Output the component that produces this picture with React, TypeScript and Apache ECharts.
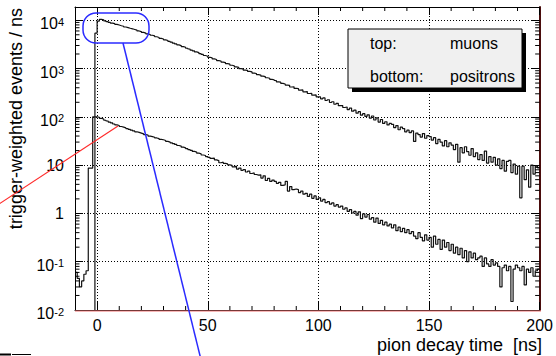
import React, { useEffect, useRef } from 'react';
import * as echarts from 'echarts';

const X_MIN = -10;
const X_MAX = 200;
const Y_MIN = 0.01;
const Y_MAX = 18800;
const BIN_START = -10;
const BIN_WIDTH = 1;

// top histogram: muons, 1 ns bins starting at -10 ns
const muonCounts = [
  0, 0, 0, 0, 0, 0, 0, 0, 0, 5400,
  9600, 10400, 10200, 9700, 9350, 9000, 8700, 8480, 8190, 7960,
  7700, 7500, 7250, 7050, 6820, 6650, 6440, 6230, 6000, 5820,
  5590, 5420, 5220, 5070, 4890, 4730, 4550, 4400, 4220, 4090,
  3930, 3810, 3640, 3510, 3350, 3230, 3090, 2990, 2850, 2760,
  2630, 2540, 2410, 2330, 2210, 2140, 2030, 1960, 1860, 1800,
  1710, 1660, 1580, 1540, 1460, 1430, 1360, 1330, 1260, 1230,
  1170, 1140, 1080, 1060, 1000, 985, 930, 915, 870, 850,
  805, 790, 748, 732, 694, 680, 645, 630, 598, 585,
  565, 530, 522, 492, 478, 455, 450, 415, 418, 388,
  386, 358, 360, 330, 334, 304, 308, 281, 284, 258,
  258, 236, 246, 218, 226, 198, 205, 182, 190, 170,
  171, 156, 160, 141, 152, 131, 137, 119, 128, 108,
  116, 102, 110, 94, 104, 86, 95, 78, 88, 73,
  79, 68, 73, 70, 60, 66, 54, 61, 57, 49,
  53, 47, 51, 31, 46, 43, 38, 45, 36, 41,
  39, 33, 37, 28, 34, 30, 25, 32, 24, 29,
  26, 21, 27, 11.5, 23, 18, 24, 19, 16, 22,
  15, 18, 13, 16.5, 12.5, 19.5, 11, 15, 11.5, 14.5,
  10, 13.5, 8.5, 12.5, 7.5, 12, 12.5, 7, 10.5, 6.5,
  9.5, 2.1, 9.5, 5, 8, 3.5, 10, 6.5, 9.5, 8.8,
];

// bottom histogram: positrons, same bins
const positronCounts = [
  0.06, 0.045, 0.03, 0.04, 0.055, 0.065, 8.7, 8.7, 100, 100,
  98, 93, 90, 85, 82, 78, 75, 71, 68, 66,
  63, 61, 59, 57, 55, 53, 51, 49, 47.5, 46,
  44.5, 43, 42, 40, 39, 37.8, 36.5, 35.5, 34, 33.5,
  32.4, 31, 30, 29, 28, 26.8, 25.5, 24.8, 23.5, 22.8,
  21.9, 21, 20.2, 19.2, 18.6, 17.7, 17.2, 16.2, 15.8, 15,
  14.5, 13.8, 13.9, 12.8, 12.4, 11.2, 11.5, 10.9, 10.6, 10.1,
  9.9, 9.2, 9.5, 8.3, 8.7, 7.8, 8.1, 7.2, 7.5, 6.7,
  6.9, 6.4, 6.2, 6.3, 5.4, 6.0, 4.8, 5.3, 4.6, 4.9,
  4.6, 4.2, 4.4, 3.8, 3.9, 4.6, 2.9, 3.6, 3.1, 3.2,
  3.1, 2.7, 2.9, 2.5, 2.6, 2.25, 2.5, 2.05, 2.3, 1.95,
  2.1, 1.8, 1.95, 1.68, 1.75, 1.55, 1.65, 1.42, 1.52, 1.35,
  1.42, 1.22, 1.3, 1.1, 1.2, 1.02, 1.1, 0.92, 1.08, 0.78,
  0.98, 0.84, 0.95, 0.76, 0.82, 0.66, 0.8, 0.62, 0.72, 0.58,
  0.66, 0.55, 0.6, 0.5, 0.58, 0.44, 0.52, 0.42, 0.49, 0.4,
  0.46, 0.38, 0.42, 0.34, 0.3, 0.4, 0.32, 0.27, 0.36, 0.28,
  0.32, 0.2, 0.34, 0.23, 0.29, 0.18, 0.28, 0.2, 0.25, 0.17,
  0.23, 0.15, 0.2, 0.14, 0.19, 0.12, 0.17, 0.1, 0.16, 0.12,
  0.15, 0.11, 0.12, 0.13, 0.08, 0.12, 0.09, 0.08, 0.11, 0.085,
  0.095, 0.08, 0.03, 0.075, 0.085, 0.065, 0.08, 0.015, 0.07, 0.085,
  0.075, 0.065, 0.08, 0.033, 0.07, 0.06, 0.075, 0.05, 0.065, 0.07,
];

const xMinorTicks = [10, 20, 30, 40, 60, 70, 80, 90, 110, 120, 130, 140, 160, 170, 180, 190];
const yMinorTicks = [
  0.02, 0.03, 0.04, 0.05, 0.06, 0.07, 0.08, 0.09,
  0.2, 0.3, 0.4, 0.5, 0.6, 0.7, 0.8, 0.9,
  2, 3, 4, 5, 6, 7, 8, 9,
  20, 30, 40, 50, 60, 70, 80, 90,
  200, 300, 400, 500, 600, 700, 800, 900,
  2000, 3000, 4000, 5000, 6000, 7000, 8000, 9000,
];
const legendLabels = ['top:', 'bottom:'];
const legendNames = ['muons', 'positrons'];
const xTitle = 'pion decay time  [ns]';
const yTitle = 'trigger-weighted events / ns';

const FONT = "'Liberation Sans', Arial, Helvetica, sans-serif";

function toSteps(counts: number[]) {
  const pts = counts.map((c, i) => [BIN_START + i * BIN_WIDTH, c > 0 ? c : 1e-4]);
  pts.push([BIN_START + counts.length * BIN_WIDTH, pts[pts.length - 1][1]]);
  return pts;
}

function yLabel(v: number) {
  const l = Math.log10(v);
  const e = Math.round(l);
  if (Math.abs(l - e) > 1e-6) return '';
  if (e === 0) return '{p|1}';
  if (e === 1) return '{p|10}';
  return '{b|10}{s|' + e + '}';
}

export default function App() {
  const ref = useRef<HTMLDivElement>(null);
  useEffect(() => {
    const chart = echarts.init(ref.current!, null, { renderer: 'svg' });
    const tickLine = { stroke: '#000', lineWidth: 1 };
    const option: any = {
      animation: false,
      backgroundColor: '#ffffff',
      grid: { left: 75, right: 15, top: 7, bottom: 46, containLabel: false },
      xAxis: [
        {
          type: 'value', position: 'bottom', min: X_MIN, max: X_MAX,
          axisLine: { show: true, onZero: false, lineStyle: { color: '#000', width: 1 } },
          axisTick: { show: true, inside: true, length: 8, lineStyle: { color: '#000' } },
          axisLabel: {
            show: true, margin: 7, fontSize: 16, fontFamily: FONT, color: '#000',
            formatter: (v: number) => (v % 50 === 0 ? String(v) : ''),
          },
          splitLine: { show: true, lineStyle: { color: '#000', type: [1, 2], width: 1 } },
        },
        {
          type: 'value', position: 'top', min: X_MIN, max: X_MAX,
          axisLine: { show: true, onZero: false, lineStyle: { color: '#000', width: 1 } },
          axisTick: { show: true, inside: true, length: 8, lineStyle: { color: '#000' } },
          axisLabel: { show: false },
          splitLine: { show: false },
        },
      ],
      yAxis: [
        {
          type: 'log', logBase: 10, position: 'left', min: Y_MIN, max: Y_MAX,
          axisLine: { show: true, onZero: false, lineStyle: { color: '#000', width: 1 } },
          axisTick: { show: true, inside: true, length: 8, lineStyle: { color: '#000' } },
          axisLabel: {
            show: true, margin: 11, color: '#000', fontSize: 16, fontFamily: FONT,
            formatter: yLabel,
            rich: {
              p: { fontSize: 16, fontFamily: FONT, color: '#000' },
              b: { fontSize: 16, fontFamily: FONT, color: '#000', lineHeight: 16, padding: [7, 0, 0, 0] },
              s: { fontSize: 11, fontFamily: FONT, color: '#000', lineHeight: 11, padding: [4, 0, 0, 0], verticalAlign: 'top' },
            },
          },
          splitLine: { show: true, lineStyle: { color: '#000', type: [1, 2], width: 1 } },
        },
        {
          type: 'log', logBase: 10, position: 'right', min: Y_MIN, max: Y_MAX,
          axisLine: { show: true, onZero: false, lineStyle: { color: '#4a0c0c', width: 2 } },
          axisTick: { show: true, inside: true, length: 8, lineStyle: { color: '#000' } },
          axisLabel: { show: false },
          splitLine: { show: false },
        },
      ],
      series: [
        {
          name: 'muons', type: 'line', step: 'end', symbol: 'none', xAxisIndex: 0, yAxisIndex: 0,
          lineStyle: { color: '#111', width: 1.2 }, data: toSteps(muonCounts), z: 5, silent: true,
        },
        {
          name: 'positrons', type: 'line', step: 'end', symbol: 'none', xAxisIndex: 0, yAxisIndex: 0,
          lineStyle: { color: '#111', width: 1.2 }, data: toSteps(positronCounts), z: 5, silent: true,
        },
        {
          type: 'custom', xAxisIndex: 0, yAxisIndex: 0, silent: true, z: 6,
          data: yMinorTicks.map((v) => [X_MIN, v]),
          renderItem: (params: any, api: any) => {
            const cs = params.coordSys;
            const p = api.coord([api.value(0), api.value(1)]);
            return {
              type: 'group',
              children: [
                { type: 'line', shape: { x1: cs.x, y1: p[1], x2: cs.x + 4.5, y2: p[1] }, style: tickLine },
                { type: 'line', shape: { x1: cs.x + cs.width - 4.5, y1: p[1], x2: cs.x + cs.width, y2: p[1] }, style: tickLine },
              ],
            };
          },
        },
        {
          type: 'custom', xAxisIndex: 0, yAxisIndex: 0, silent: true, z: 6,
          data: xMinorTicks.map((v) => [v, Y_MIN]),
          renderItem: (params: any, api: any) => {
            const cs = params.coordSys;
            const p = api.coord([api.value(0), api.value(1)]);
            return {
              type: 'group',
              children: [
                { type: 'line', shape: { x1: p[0], y1: cs.y + cs.height, x2: p[0], y2: cs.y + cs.height - 4 }, style: tickLine },
                { type: 'line', shape: { x1: p[0], y1: cs.y, x2: p[0], y2: cs.y + 4 }, style: tickLine },
              ],
            };
          },
        },
      ],
      graphic: [
        { type: 'line', z: 30, shape: { x1: 75, y1: 311, x2: 541, y2: 311 }, style: { stroke: '#f07070', lineWidth: 1 } },
        { type: 'rect', z: 30, shape: { x: 352, y: 33, width: 174, height: 59 }, style: { fill: '#000' } },
        { type: 'rect', z: 31, shape: { x: 348, y: 29, width: 174, height: 59 }, style: { fill: '#f0f0f0', stroke: '#000', lineWidth: 1 } },
        ...legendLabels.map((t, i) => ({
          type: 'text', z: 32, x: 370, y: 43.5 + i * 33,
          style: { text: t, fill: '#000', fontSize: 16, fontFamily: FONT, align: 'left', verticalAlign: 'middle', textAlign: 'left', textVerticalAlign: 'middle' },
        })),
        ...legendNames.map((t, i) => ({
          type: 'text', z: 32, x: 450, y: 43.5 + i * 33,
          style: { text: t, fill: '#000', fontSize: 16, fontFamily: FONT, align: 'left', verticalAlign: 'middle', textAlign: 'left', textVerticalAlign: 'middle' },
        })),
        {
          type: 'text', z: 32, x: 542, y: 345,
          style: { text: xTitle, fill: '#000', fontSize: 18, fontFamily: FONT, align: 'right', verticalAlign: 'middle', textAlign: 'right', textVerticalAlign: 'middle' },
        },
        {
          type: 'text', z: 32, x: 16, y: 8, rotation: Math.PI / 2,
          style: { text: yTitle, fill: '#000', fontSize: 18, fontFamily: FONT, align: 'right', verticalAlign: 'middle', textAlign: 'right', textVerticalAlign: 'middle' },
        },
        { type: 'rect', z: 40, shape: { x: 83, y: 13, width: 66, height: 30, r: 13 }, style: { fill: 'none', stroke: '#2b2bff', lineWidth: 1.5 } },
        { type: 'line', z: 40, shape: { x1: 123, y1: 43, x2: 206, y2: 380 }, style: { stroke: '#2b2bff', lineWidth: 1.5 } },
        { type: 'line', z: 40, shape: { x1: -4, y1: 206, x2: 118, y2: 126 }, style: { stroke: '#ff2a2a', lineWidth: 1.2 } },
        { type: 'line', z: 40, shape: { x1: 0, y1: 354.5, x2: 11, y2: 354.5 }, style: { stroke: '#000', lineWidth: 2 } },
        { type: 'line', z: 40, shape: { x1: 12, y1: 354.5, x2: 31, y2: 354.5 }, style: { stroke: '#000', lineWidth: 1 } },
      ],
    };
    chart.setOption(option);
    return () => chart.dispose();
  }, []);
  return <div ref={ref} style={{ position: 'fixed', left: 0, top: 0, width: 556, height: 356 }} />;
}
